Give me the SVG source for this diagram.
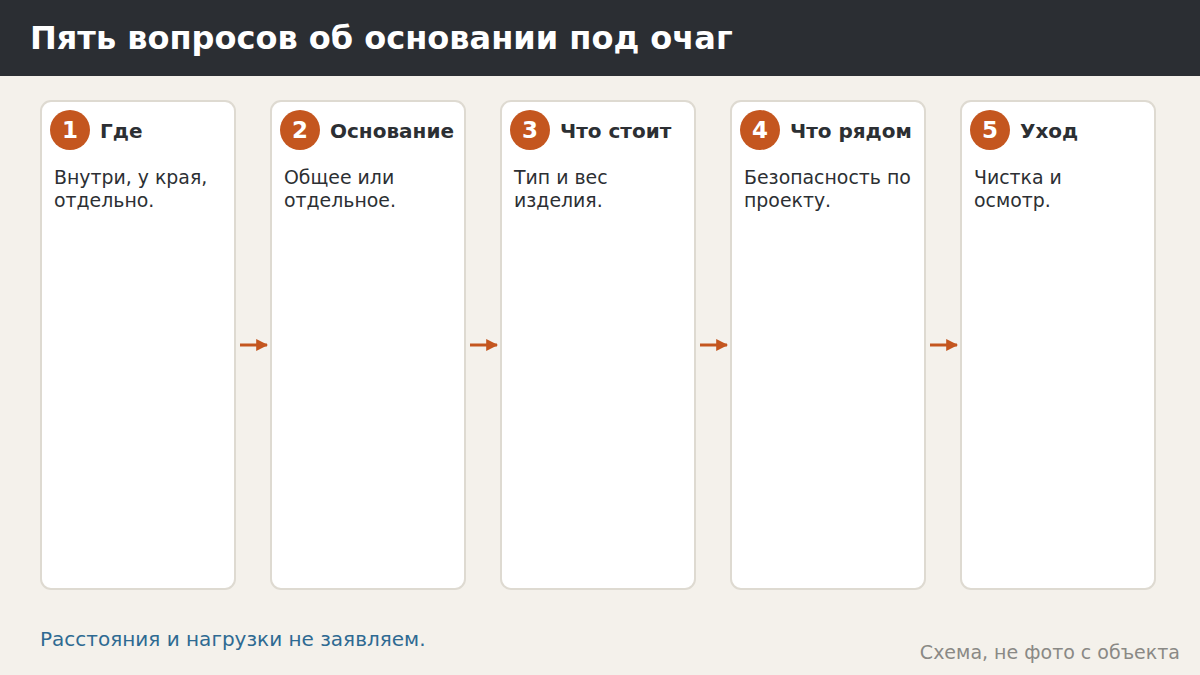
<svg xmlns="http://www.w3.org/2000/svg" width="1200" height="675" viewBox="0 0 1200 675">
<defs>
<style>
.card{fill:#ffffff;stroke:#dedad1;stroke-width:2}
.badge{fill:#c4561f}
.num{font-family:"DejaVu Sans",sans-serif;font-weight:bold;font-size:23px;fill:#ffffff;text-anchor:middle}
.ttl{font-family:"DejaVu Sans",sans-serif;font-weight:bold;font-size:20px;fill:#2c2f33}
.body{font-family:"DejaVu Sans",sans-serif;font-size:18.9px;fill:#2c2f33}
.conn{stroke:#c4561f;stroke-width:3;fill:none}
</style>
<marker id="ah" viewBox="0 0 10 10" refX="9" refY="5" markerWidth="4" markerHeight="4" orient="auto" markerUnits="strokeWidth">
<path d="M0,0 L10,5 L0,10 z" fill="#c4561f"/>
</marker>
</defs>
<rect x="0" y="0" width="1200" height="675" fill="#f4f1eb"/>
<rect x="0" y="0" width="1200" height="76" fill="#2b2e33"/>
<text x="30" y="49" font-family="DejaVu Sans,sans-serif" font-weight="bold" font-size="32" fill="#ffffff">Пять вопросов об основании под очаг</text>

<g id="connectors">
<line class="conn" x1="240" y1="345" x2="267" y2="345" marker-end="url(#ah)"/>
<line class="conn" x1="470" y1="345" x2="497" y2="345" marker-end="url(#ah)"/>
<line class="conn" x1="700" y1="345" x2="727" y2="345" marker-end="url(#ah)"/>
<line class="conn" x1="930" y1="345" x2="957" y2="345" marker-end="url(#ah)"/>
</g>

<g id="node1">
<rect class="card" x="41" y="101" width="194" height="488" rx="10"/>
<circle class="badge" cx="70" cy="130" r="20"/>
<text class="num" x="70" y="138">1</text>
<text class="ttl" x="100" y="138">Где</text>
<text class="body" x="54" y="184">Внутри, у края,</text>
<text class="body" x="54" y="207">отдельно.</text>
</g>
<g id="node2">
<rect class="card" x="271" y="101" width="194" height="488" rx="10"/>
<circle class="badge" cx="300" cy="130" r="20"/>
<text class="num" x="300" y="138">2</text>
<text class="ttl" x="330" y="138">Основание</text>
<text class="body" x="284" y="184">Общее или</text>
<text class="body" x="284" y="207">отдельное.</text>
</g>
<g id="node3">
<rect class="card" x="501" y="101" width="194" height="488" rx="10"/>
<circle class="badge" cx="530" cy="130" r="20"/>
<text class="num" x="530" y="138">3</text>
<text class="ttl" x="560" y="138">Что стоит</text>
<text class="body" x="514" y="184">Тип и вес</text>
<text class="body" x="514" y="207">изделия.</text>
</g>
<g id="node4">
<rect class="card" x="731" y="101" width="194" height="488" rx="10"/>
<circle class="badge" cx="760" cy="130" r="20"/>
<text class="num" x="760" y="138">4</text>
<text class="ttl" x="790" y="138">Что рядом</text>
<text class="body" x="744" y="184">Безопасность по</text>
<text class="body" x="744" y="207">проекту.</text>
</g>
<g id="node5">
<rect class="card" x="961" y="101" width="194" height="488" rx="10"/>
<circle class="badge" cx="990" cy="130" r="20"/>
<text class="num" x="990" y="138">5</text>
<text class="ttl" x="1020" y="138">Уход</text>
<text class="body" x="974" y="184">Чистка и</text>
<text class="body" x="974" y="207">осмотр.</text>
</g>

<text x="40" y="646" font-family="DejaVu Sans,sans-serif" font-size="20" fill="#2e6a92">Расстояния и нагрузки не заявляем.</text>
<text x="1180" y="659" text-anchor="end" font-family="DejaVu Sans,sans-serif" font-size="19" fill="#8a8985">Схема, не фото с объекта</text>
</svg>
